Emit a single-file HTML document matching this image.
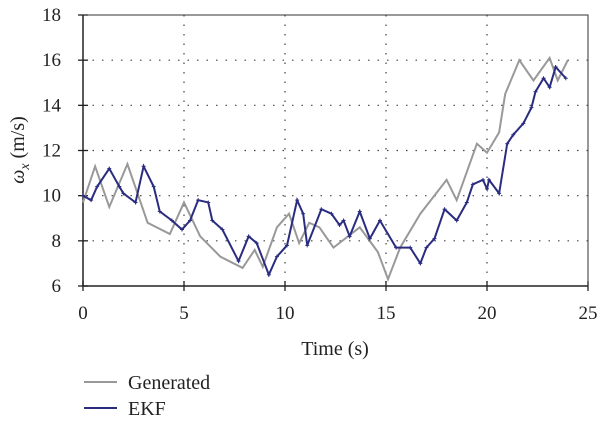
<!DOCTYPE html>
<html><head><meta charset="utf-8"><style>
body{margin:0;background:#fff;width:600px;height:425px;overflow:hidden}
svg text{font-family:"Liberation Serif",serif;fill:#222}
</style></head><body>
<svg id="c" width="600" height="425"></svg>
<script>
const xTicks=[0,5,10,15,20,25];
const yTicks=[6,8,10,12,14,16,18];
const genT=[0,0.6,1.3,2.2,3.2,4.3,5.0,5.8,6.8,7.9,8.5,8.9,9.6,10.2,10.7,11.2,11.7,12.4,13.7,14.6,15.1,15.7,16.7,18.0,18.5,19.5,20.0,20.6,20.9,21.6,22.3,23.1,23.5,24.0];
const genV=[9.7,11.3,9.5,11.4,8.8,8.3,9.7,8.2,7.3,6.8,7.6,6.85,8.6,9.2,7.9,8.8,8.6,7.7,8.6,7.5,6.3,7.7,9.2,10.7,9.8,12.3,11.9,12.8,14.5,16.0,15.1,16.1,15.1,16.0];
const ekfT=[0,0.4,0.7,1.3,1.8,2.0,2.6,3.0,3.5,3.8,4.4,4.9,5.3,5.7,6.2,6.4,6.9,7.7,8.2,8.6,9.2,9.6,10.1,10.6,10.9,11.1,11.8,12.3,12.7,12.9,13.2,13.7,14.2,14.7,15.5,16.2,16.7,17.0,17.4,17.9,18.5,19.0,19.3,19.8,20.0,20.1,20.6,21.0,21.3,21.8,22.2,22.4,22.8,23.1,23.4,23.9];
const ekfV=[10.0,9.8,10.4,11.2,10.4,10.1,9.7,11.3,10.4,9.3,8.9,8.5,8.9,9.8,9.7,8.9,8.5,7.1,8.2,7.9,6.5,7.3,7.8,9.8,9.2,7.8,9.4,9.2,8.7,8.9,8.2,9.3,8.1,8.9,7.7,7.7,7.0,7.7,8.1,9.4,8.9,9.7,10.5,10.7,10.3,10.7,10.1,12.3,12.7,13.2,13.9,14.6,15.2,14.8,15.7,15.2];
const L=83,R=588,T=15,B=286;
const X=v=>L+(v-0)/25*(R-L);
const Y=v=>B-(v-6)/12*(B-T);
const s=document.getElementById('c');const NS='http://www.w3.org/2000/svg';
function el(t,a,p){const e=document.createElementNS(NS,t);for(const k in a)e.setAttribute(k,a[k]);(p||s).appendChild(e);return e;}
// grid
xTicks.forEach(v=>{if(v>0&&v<25){const g=el('line',{x1:X(v),x2:X(v),y1:T,y2:B,stroke:'#444','stroke-width':1.2,'stroke-dasharray':'1.5 8'});

}});
yTicks.forEach(v=>{if(v>6&&v<18){const g=el('line',{x1:L,x2:R,y1:Y(v),y2:Y(v),stroke:'#444','stroke-width':1.2,'stroke-dasharray':'1.5 8'});

}});
// frame
const fr=el('rect',{x:L,y:T,width:R-L,height:B-T,fill:'none',stroke:'#333','stroke-width':1});


el('line',{x1:L,x2:L,y1:T,y2:B,stroke:'#222','stroke-width':1.5});
el('line',{x1:L,x2:R,y1:B,y2:B,stroke:'#222','stroke-width':1.5});
xTicks.forEach(v=>{el('line',{x1:X(v),x2:X(v),y1:B-5,y2:B+5,stroke:'#222','stroke-width':1.3});
const t=el('text',{x:X(v),y:B+33,'text-anchor':'middle','font-size':19});t.textContent=v;

});
yTicks.forEach(v=>{el('line',{x1:L-5,x2:L+5,y1:Y(v),y2:Y(v),stroke:'#222','stroke-width':1.3});
const t=el('text',{x:L-22,y:Y(v)+6,'text-anchor':'end','font-size':19});t.textContent=v;

});
// series
const gp=el('polyline',{points:genT.map((t,i)=>X(t)+','+Y(genV[i])).join(' '),fill:'none',stroke:'#999','stroke-width':2});


const ep=el('polyline',{points:ekfT.map((t,i)=>X(t)+','+Y(ekfV[i])).join(' '),fill:'none',stroke:'#2a2c80','stroke-width':2});


ekfT.forEach((t,i)=>{const m=el('path',{d:`M${X(t)-2},${Y(ekfV[i])}h4M${X(t)},${Y(ekfV[i])-2}v4`,stroke:'#2a2c80','stroke-width':1});

});
// titles
const xt=el('text',{x:335,y:355,'text-anchor':'middle','font-size':20});xt.textContent='Time (s)';


const yt=el('text',{transform:'translate(24,150) rotate(-90)','text-anchor':'middle','font-size':20});
yt.innerHTML='<tspan font-style="italic">ω</tspan><tspan font-style="italic" font-size="14" dy="5">x</tspan><tspan dy="-5"> (m/s)</tspan>';


// legend
[['Generated','#999',382],['EKF','#2a2c80',408]].forEach(([n,c,y])=>{
const g=el('g',{});

el('line',{x1:84,x2:117,y1:y,y2:y,stroke:c,'stroke-width':2},g);
const t=el('text',{x:128,y:y+7,'font-size':20},g);t.textContent=n;});
</script>
</body></html>
